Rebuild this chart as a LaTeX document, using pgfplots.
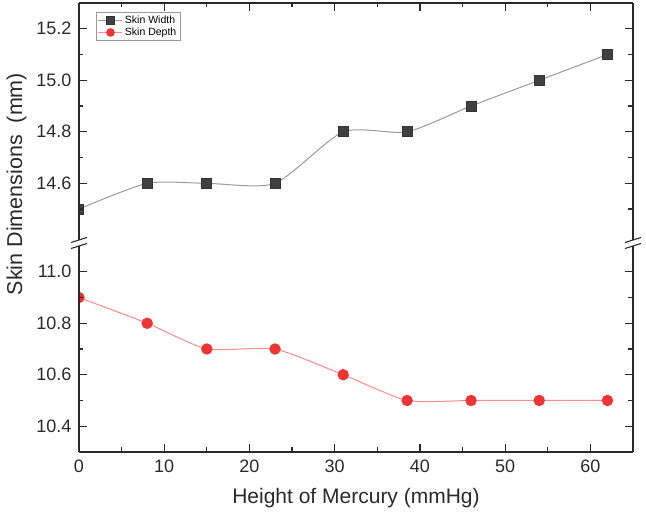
\documentclass[border=0pt]{standalone}
\usepackage{pgfplots}
\pgfplotsset{compat=1.18}
\usepackage{fontspec}
\setmainfont{Liberation Sans}
\definecolor{sqcol}{HTML}{404040}
\definecolor{sqline}{HTML}{9A9A9A}
\definecolor{circol}{HTML}{EE3535}
\definecolor{cirline}{HTML}{FF8A8A}
\definecolor{axcol}{HTML}{2A2A2A}
\pgfplotsset{
 common/.style={
  scale only axis, width=554pt,
  xmin=0, xmax=65,
  tick align=inside,
  major tick length=8pt, minor tick length=4.5pt,
  every tick/.style={axcol, line width=1.3pt},
  /pgf/number format/assume math mode=true,
  tick label style={font=\fontsize{18}{21}\selectfont, text=axcol},
  axis line style={-, axcol, line width=1.4pt},
  every outer x axis line/.append style={-},
  every outer y axis line/.append style={-},
  xtick={0,10,20,30,40,50,60}, minor xtick={5,15,25,35,45,55},
  yticklabel style={xshift=-4pt, /pgf/number format/fixed, /pgf/number format/fixed zerofill, /pgf/number format/precision=1},
  clip mode=global,
  clip marker paths=true,
  axis on top,
 }
}
\begin{document}
\begin{tikzpicture}
\useasboundingbox (-79pt,-66pt) rectangle (567pt,452pt);
% lower panel
\begin{axis}[axis x line=bottom, axis y line=box, common,
  name=lower, at={(0pt,0pt)}, anchor=south west, height=206pt,
  ymin=10.3, ymax=11.1,
  ytick={10.4,10.6,10.8,11.0}, minor ytick={10.5,10.7,10.9},
  xtick pos=bottom,
  xticklabel style={yshift=-4pt},
  xlabel={Height of Mercury (mmHg)},
  xlabel style={font=\fontsize{21}{25}\selectfont, text=axcol, yshift=-9pt},
]
\addplot[cirline, line width=1pt, smooth, tension=0.35, mark=*, mark size=5.2pt,
  mark options={fill=circol, draw=circol, solid}]
 coordinates {(0,10.9)(8,10.8)(15,10.7)(23,10.7)(31,10.6)(38.5,10.5)(46,10.5)(54,10.5)(62,10.5)};
\end{axis}
% upper panel
\begin{axis}[axis x line=top, axis y line=box, common,
  name=upper, at={(0pt,212pt)}, anchor=south west, height=237pt,
  ymin=14.38, ymax=15.3,
  ytick={14.6,14.8,15.0,15.2}, minor ytick={14.5,14.7,14.9,15.1},
  xtick pos=top, xticklabels={},
  legend style={at={(0.031,0.962)}, anchor=north west,
    font=\fontsize{10.5}{12.5}\selectfont, draw=gray!80, line width=0.6pt,
    inner sep=1.5pt, row sep=-1pt, cells={anchor=west}},
  legend image code/.code={\draw[mark repeat=2,mark phase=2,#1] plot coordinates {(0pt,0pt) (12pt,0pt) (24pt,0pt)};},
  legend image post style={mark size=3.8pt},
]
\addplot[sqline, line width=1pt, smooth, tension=0.4, mark=square*, mark size=5pt,
  mark options={fill=sqcol, draw=sqcol!80!black, solid}]
 coordinates {(0,14.5)(8,14.6)(15,14.6)(23,14.6)(31,14.8)(38.5,14.8)(46,14.9)(54,15.0)(62,15.1)};
\addlegendentry{Skin Width}
\addlegendimage{cirline, line width=1pt, mark=*, mark options={fill=circol, draw=circol, solid}}
\addlegendentry{Skin Depth}
\end{axis}
% axis break marks
\foreach \p in {upper.south west, upper.south east} {
  \draw[axcol, line width=1.1pt] ([shift={(-8pt,-2.5pt)}]\p) -- ++(16pt,5pt);
}
\foreach \p in {lower.north west, lower.north east} {
  \draw[axcol, line width=1.1pt] ([shift={(-8pt,-2.5pt)}]\p) -- ++(16pt,5pt);
}
\node[rotate=90, font=\fontsize{21.5}{25}\selectfont, text=axcol] at (-62.5pt,268pt) {Skin Dimensions\ \ (mm)};
\end{tikzpicture}
\end{document}
